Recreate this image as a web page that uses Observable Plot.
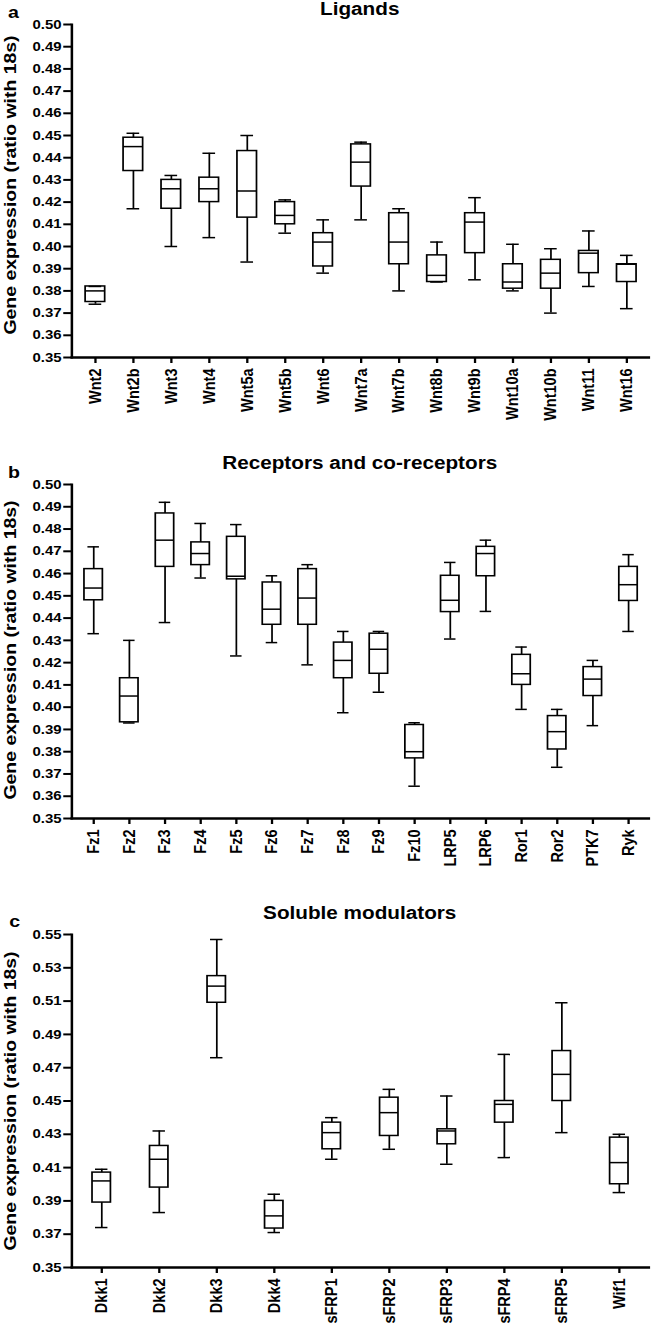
<!DOCTYPE html>
<html><head><meta charset="utf-8">
<script src="https://cdn.jsdelivr.net/npm/d3@7"></script>
<script src="https://cdn.jsdelivr.net/npm/@observablehq/plot@0.6"></script>
<style>
body{margin:0;background:#fff;}
#wrap{position:relative;width:566px;height:1328px;transform:scaleX(1.1502);transform-origin:0 0;font-family:"Liberation Sans",Arial,sans-serif;font-weight:bold;color:#000;}
.abs{position:absolute;white-space:nowrap;line-height:1.117;}
svg{display:block}
</style></head><body><div id="wrap"></div>
<script>
// ---------- Panel a: Ligands ----------
const ligandNames = ["Wnt2","Wnt2b","Wnt3","Wnt4","Wnt5a","Wnt5b","Wnt6","Wnt7a","Wnt7b","Wnt8b","Wnt9b","Wnt10a","Wnt10b","Wnt11","Wnt16"];
const ligandMax    = [0.382,0.451,0.432,0.442,0.450,0.421,0.412,0.447,0.417,0.402,0.422,0.401,0.399,0.407,0.396];
const ligandQ3     = [0.382,0.449,0.430,0.431,0.443,0.420,0.406,0.446,0.415,0.396,0.415,0.392,0.394,0.398,0.392];
const ligandMedian = [0.380,0.445,0.426,0.426,0.425,0.414,0.402,0.438,0.402,0.387,0.411,0.384,0.388,0.397,0.392];
const ligandQ1     = [0.375,0.434,0.417,0.420,0.413,0.410,0.391,0.427,0.392,0.384,0.397,0.381,0.381,0.388,0.384];
const ligandMin    = [0.374,0.417,0.400,0.404,0.393,0.406,0.388,0.412,0.380,0.384,0.385,0.380,0.370,0.382,0.372];

// ---------- Panel b: Receptors and co-receptors ----------
const receptorNames  = ["Fz1","Fz2","Fz3","Fz4","Fz5","Fz6","Fz7","Fz8","Fz9","Fz10","LRP5","LRP6","Ror1","Ror2","PTK7","Ryk"];
const receptorMax    = [0.472,0.430,0.492,0.4825,0.482,0.459,0.464,0.434,0.434,0.393,0.465,0.475,0.427,0.399,0.421,0.4685];
const receptorQ3     = [0.462,0.413,0.487,0.474,0.4765,0.456,0.462,0.429,0.433,0.392,0.459,0.472,0.4235,0.396,0.418,0.463];
const receptorMedian = [0.4535,0.405,0.475,0.469,0.4588,0.444,0.449,0.421,0.426,0.380,0.448,0.469,0.415,0.389,0.4126,0.455];
const receptorQ1     = [0.448,0.3932,0.463,0.4638,0.4574,0.437,0.437,0.413,0.415,0.377,0.4427,0.4588,0.410,0.381,0.405,0.4477];
const receptorMin    = [0.433,0.3929,0.438,0.458,0.423,0.429,0.419,0.3975,0.4067,0.3645,0.4306,0.443,0.399,0.373,0.3917,0.434];

// ---------- Panel c: Soluble modulators ----------
const modulatorNames  = ["Dkk1","Dkk2","Dkk3","Dkk4","sFRP1","sFRP2","sFRP3","sFRP4","sFRP5","Wif1"];
const modulatorMax    = [0.409,0.432,0.547,0.394,0.440,0.457,0.453,0.478,0.509,0.430];
const modulatorQ3     = [0.407,0.423,0.525,0.390,0.437,0.452,0.433,0.450,0.480,0.428];
const modulatorMedian = [0.402,0.415,0.519,0.381,0.431,0.443,0.432,0.448,0.466,0.413];
const modulatorQ1     = [0.389,0.398,0.509,0.3734,0.421,0.429,0.424,0.437,0.450,0.400];
const modulatorMin    = [0.374,0.383,0.476,0.371,0.415,0.421,0.412,0.416,0.431,0.395];

// ---------- Tick labels ----------
const yTicksAB = [0.35,0.36,0.37,0.38,0.39,0.40,0.41,0.42,0.43,0.44,0.45,0.46,0.47,0.48,0.49,0.50];
const yTicksC  = [0.35,0.37,0.39,0.41,0.43,0.45,0.47,0.49,0.51,0.53,0.55];

const panelTitles = ["Ligands","Receptors and co-receptors","Soluble modulators"];
const panelLetters = ["a","b","c"];
const yTitle = "Gene expression (ratio with 18s)";

const wrap = document.getElementById("wrap");
const W = 566, ML = 62, MR = 2.5;

function panel(o) {
  const data = o.names.map((name, i) => ({name, min: o.mins[i], q1: o.q1s[i], median: o.meds[i], q3: o.q3s[i], max: o.maxs[i]}));
  const svg = Plot.plot({
    width: W, height: o.height, marginTop: o.marginTop, marginBottom: o.marginBottom,
    marginLeft: ML, marginRight: MR,
    style: {fontFamily: "Liberation Sans, Arial, sans-serif", fontWeight: "bold", background: "transparent", overflow: "visible", color: "black"},
    x: {type: "band", domain: o.names, paddingInner: o.paddingInner, paddingOuter: o.paddingOuter},
    y: {domain: o.yDomain},
    marks: [
      Plot.ruleX(data, {x: "name", y1: "min", y2: "max", strokeWidth: 1.5}),
      Plot.barY(data, {x: "name", y1: "q1", y2: "q3", fill: "white", stroke: "black", strokeWidth: 1.5}),
      Plot.tickY(data, {x: "name", y: "median", strokeWidth: 1.5}),
      Plot.tickY(data, {x: "name", y: "max", strokeWidth: 1.5, insetLeft: o.capInset, insetRight: o.capInset}),
      Plot.tickY(data, {x: "name", y: "min", strokeWidth: 1.5, insetLeft: o.capInset, insetRight: o.capInset}),
      Plot.axisY({ticks: o.yTicks, tickFormat: d3.format(".2f"), tickSize: 7, tickPadding: 2, strokeWidth: 2, label: null, fontSize: 13, fontWeight: "bold"}),
      Plot.axisX({tickRotate: -90, tickSize: 6, tickPadding: 5, strokeWidth: 2, label: null, fontSize: 14.5, fontWeight: "bold"}),
      Plot.frame({anchor: "left", strokeWidth: 2.2}),
      Plot.frame({anchor: "bottom", strokeWidth: 2.4})
    ]
  });
  svg.style.position = "absolute";
  svg.style.left = "0px";
  svg.style.top = o.top + "px";
  wrap.append(svg);
}

function text(str, x, baseline, size, center) {
  const d = document.createElement("div");
  d.className = "abs";
  d.textContent = str;
  d.style.fontSize = size + "px";
  d.style.left = x + "px";
  d.style.top = (baseline - 0.905 * size) + "px";
  if (center) d.style.transform = "translateX(-50%)";
  wrap.append(d);
}

function vtitle(str, cx, cy, size, stretch) {
  const d = document.createElement("div");
  d.className = "abs";
  d.textContent = str;
  d.style.fontSize = size + "px";
  d.style.left = cx + "px";
  d.style.top = cy + "px";
  d.style.transform = `translate(-50%,-50%) rotate(-90deg) scaleX(${stretch})`;
  wrap.append(d);
}

panel({names: ligandNames, mins: ligandMin, q1s: ligandQ1, meds: ligandMedian, q3s: ligandQ3, maxs: ligandMax,
  yDomain: [0.35, 0.50], yTicks: yTicksAB, top: 0, height: 440, marginTop: 24, marginBottom: 83,
  paddingInner: 0.5, paddingOuter: 0.25, capInset: 3});
panel({names: receptorNames, mins: receptorMin, q1s: receptorQ1, meds: receptorMedian, q3s: receptorQ3, maxs: receptorMax,
  yDomain: [0.35, 0.50], yTicks: yTicksAB, top: 440, height: 445, marginTop: 44, marginBottom: 67,
  paddingInner: 0.5, paddingOuter: 0.25, capInset: 3});
panel({names: modulatorNames, mins: modulatorMin, q1s: modulatorQ1, meds: modulatorMedian, q3s: modulatorQ3, maxs: modulatorMax,
  yDomain: [0.35, 0.55], yTicks: yTicksC, top: 885, height: 443, marginTop: 49, marginBottom: 61,
  paddingInner: 0.69, paddingOuter: 0.345, capInset: 2.6});

const cx = (ML + W - MR) / 2;
text(panelTitles[0], cx, 15.5, 18, true);
text(panelTitles[1], cx, 469.5, 18, true);
text(panelTitles[2], cx, 919, 18, true);
text(panelLetters[0], 7, 18, 17, false);
text(panelLetters[1], 7, 478, 17, false);
text(panelLetters[2], 8, 927, 17, false);
vtitle(yTitle, 8.5, 185, 14.5, 1.34);
vtitle(yTitle, 8.5, 650, 14.5, 1.34);
vtitle(yTitle, 8.5, 1101, 14.5, 1.34);
</script></body></html>
